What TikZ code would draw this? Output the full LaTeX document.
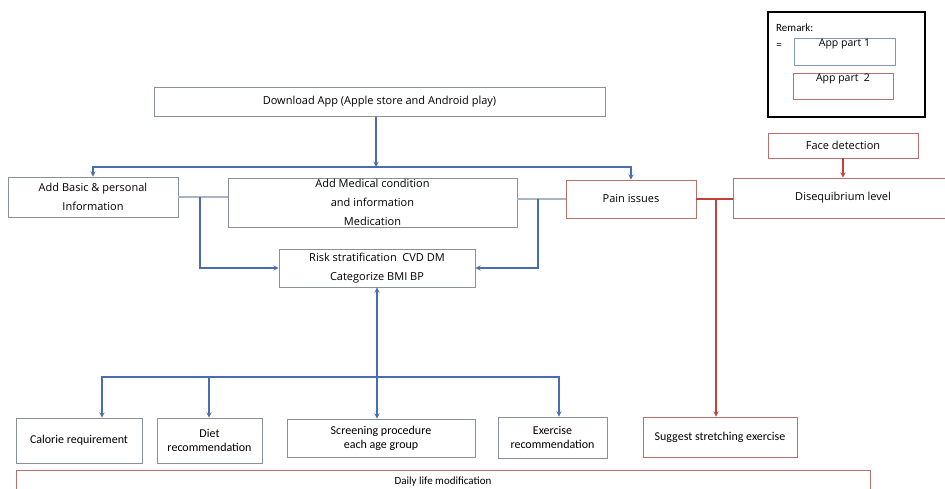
\documentclass[tikz,border=0pt]{standalone}
\usepackage{fontspec}
\setmainfont{Open Sans}
\newfontfamily\calfont{Carlito}
\definecolor{boxgray}{HTML}{8A909B}
\definecolor{partblue}{HTML}{8497B0}
\definecolor{boxred}{HTML}{B8706E}
\definecolor{linkblue}{HTML}{4A6DAE}
\definecolor{linkred}{HTML}{C4403A}
\definecolor{linkgray}{HTML}{A9B4C4}

\begin{document}
\begin{tikzpicture}[x=1pt,y=-1pt,>=stealth,
		box/.style={draw=boxgray,line width=0.8pt,inner sep=0pt,align=center,
			font=\fontsize{11}{19}\selectfont},
		redbox/.style={box,draw=boxred},
		lowbox/.style={box,font=\calfont\fontsize{12}{14}\selectfont},
		blueline/.style={linkblue,line width=1.3pt},
		redline/.style={linkred,line width=1.3pt},
		grayline/.style={linkgray,line width=1.1pt}]
		\clip (0,0) rectangle (945,488);
		% remark
		\node[draw,line width=2.5pt,minimum width=157,minimum height=105] (remark) at (846.5,64.5) {};
		\node[anchor=west,inner sep=0pt,font=\calfont\fontsize{11}{13}\selectfont] (remtext) at (776,28) {Remark:};
		\node[inner sep=0pt,font=\calfont\fontsize{11}{13}\selectfont] (eq) at (779,46) {=};
		\node[box,draw=partblue,minimum width=101,minimum height=27] (part1) at (844.5,51.5) {};
		\node[inner sep=0pt,font=\fontsize{10.5}{13}\selectfont] (part1text) at (844.5,44) {App part 1};
		\node[redbox,minimum width=100,minimum height=26] (part2) at (843,86) {};
		\node[inner sep=0pt,font=\fontsize{10.5}{13}\selectfont] (part2text) at (843,79) {App part\ \ 2};
		% upper part
		\node[box,minimum width=451,minimum height=29] (download) at (379.5,102) {Download App (Apple store and Android play)};
		\node[box,minimum width=170,minimum height=40] (basic) at (93,197) {Add Basic \& personal\\Information};
		\node[box,minimum width=289,minimum height=49] (medical) at (372.5,202.5) {Add Medical condition\\and information\\Medication};
		\node[redbox,minimum width=130,minimum height=38] (pain) at (631,199) {Pain issues};
		\node[redbox,minimum width=150,minimum height=25] (face) at (843,145.5) {Face detection};
		\node[redbox,minimum width=220,minimum height=40] (diseq) at (843,198) {Disequibrium level};
		\node[box,minimum width=196,minimum height=38] (risk) at (377,268) {Risk stratification\ \ CVD DM\\Categorize BMI BP};
		% lower part
		\node[lowbox,minimum width=126,minimum height=45] (calorie) at (79,440.5) {Calorie requirement};
		\node[lowbox,minimum width=105,minimum height=45] (diet) at (209.5,440.5) {Diet\\recommendation};
		\node[lowbox,minimum width=188,minimum height=38] (screening) at (381,438) {Screening procedure\\each age group};
		\node[lowbox,minimum width=109,minimum height=41] (exercise) at (552.5,437.5) {Exercise\\recommendation};
		\node[lowbox,draw=boxred,minimum width=154,minimum height=40] (stretch) at (720,437) {Suggest stretching exercise};
		\node[lowbox,draw=boxred,minimum width=854,minimum height=24,font=\calfont\fontsize{11}{13}\selectfont] (daily) at (443,482) {Daily life modification};
		% connectors
		\coordinate (topbar) at (376,167);
		\coordinate (jleft) at (200,197);
		\coordinate (jright) at (538,199);
		\coordinate (jred) at (716,199);
		\coordinate (lowbar) at (377,377);
		\draw[blueline,->] (download.south -| topbar) -- (topbar);
		\draw[blueline,->] (topbar) -| (basic.north);
		\draw[blueline,->] (topbar) -| (pain.north);
		\draw[grayline] (basic.east) -- (basic.east -| medical.west);
		\draw[grayline] (medical.east |- pain.west) -- (pain.west);
		\draw[blueline,->] (jleft) |- (risk.west);
		\draw[blueline,->] (jright) |- (risk.east);
		\draw[redline] (pain.east) -- (pain.east -| diseq.west);
		\draw[redline,->] (face) -- (diseq);
		\draw[redline,->] (jred) -- (jred |- stretch.north);
		\draw[blueline,<->] (risk.south -| lowbar) -- (screening.north -| lowbar);
		\draw[blueline,->] (lowbar) -| ([xshift=23]calorie.north);
		\draw[blueline,->] (lowbar) -| ([xshift=-0.5]diet.north);
		\draw[blueline,->] (lowbar) -| ([xshift=6.5]exercise.north);
\end{tikzpicture}
\end{document}
